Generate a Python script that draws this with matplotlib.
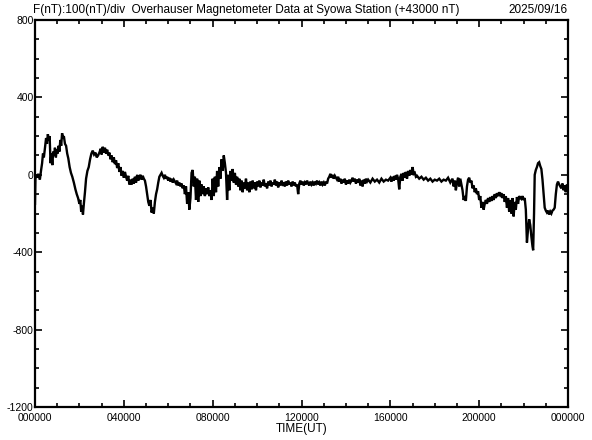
import matplotlib
matplotlib.use("Agg")
import matplotlib.pyplot as plt
from matplotlib.ticker import MultipleLocator

# --- Data (F - 43000 nT) -------------------------------------------------------
HOURS = [
    0.00, 0.02, 0.06, 0.10, 0.14, 0.18, 0.22, 0.27, 0.32, 0.36, 0.40, 0.45, 0.50, 0.54, 0.58, 0.62,
    0.66, 0.70, 0.74, 0.78, 0.82, 0.86, 0.90, 0.94, 0.98, 1.02, 1.06, 1.10, 1.14, 1.18, 1.22, 1.26,
    1.30, 1.35, 1.40, 1.45, 1.50, 1.56, 1.62, 1.68, 1.75, 1.82, 1.88, 1.94, 2.00, 2.04, 2.08, 2.12,
    2.16, 2.20, 2.25, 2.30, 2.36, 2.42, 2.48, 2.54, 2.60, 2.66, 2.72, 2.78, 2.84, 2.90, 2.96, 3.00,
    3.05, 3.10, 3.15, 3.20, 3.25, 3.30, 3.35, 3.40, 3.45, 3.50, 3.55, 3.60, 3.65, 3.70, 3.75, 3.80,
    3.85, 3.90, 3.95, 4.00, 4.05, 4.10, 4.15, 4.20, 4.25, 4.30, 4.35, 4.40, 4.45, 4.50, 4.55, 4.60,
    4.65, 4.70, 4.75, 4.80, 4.85, 4.90, 4.95, 5.00, 5.05, 5.10, 5.15, 5.20, 5.25, 5.30, 5.35, 5.40,
    5.45, 5.50, 5.55, 5.60, 5.65, 5.70, 5.75, 5.80, 5.85, 5.90, 5.95, 6.00, 6.05, 6.10, 6.15, 6.20,
    6.25, 6.30, 6.35, 6.40, 6.45, 6.50, 6.55, 6.60, 6.65, 6.70, 6.75, 6.80, 6.85, 6.90, 6.95, 7.00,
    7.05, 7.10, 7.15, 7.20, 7.25, 7.30, 7.35, 7.40, 7.45, 7.50, 7.55, 7.60, 7.65, 7.70, 7.75, 7.80,
    7.85, 7.90, 7.95, 8.00, 8.05, 8.10, 8.15, 8.20, 8.25, 8.30, 8.35, 8.40, 8.45, 8.50, 8.55, 8.60,
    8.65, 8.70, 8.75, 8.80, 8.85, 8.90, 8.95, 9.00, 9.05, 9.10, 9.15, 9.20, 9.25, 9.30, 9.35, 9.40,
    9.45, 9.50, 9.55, 9.60, 9.65, 9.70, 9.75, 9.80, 9.85, 9.90, 9.95, 10.00, 10.05, 10.10, 10.15, 10.20,
    10.25, 10.30, 10.35, 10.40, 10.45, 10.50, 10.55, 10.60, 10.65, 10.70, 10.75, 10.80, 10.85, 10.90, 10.95, 11.00,
    11.05, 11.10, 11.15, 11.20, 11.25, 11.30, 11.35, 11.40, 11.45, 11.50, 11.55, 11.60, 11.65, 11.70, 11.75, 11.80,
    11.85, 11.90, 11.95, 12.00, 12.05, 12.10, 12.15, 12.20, 12.25, 12.30, 12.35, 12.40, 12.45, 12.50, 12.55, 12.60,
    12.65, 12.70, 12.75, 12.80, 12.85, 12.90, 12.95, 13.00, 13.05, 13.10, 13.15, 13.20, 13.25, 13.30, 13.35, 13.40,
    13.45, 13.50, 13.55, 13.60, 13.65, 13.70, 13.75, 13.80, 13.85, 13.90, 13.95, 14.00, 14.05, 14.10, 14.15, 14.20,
    14.25, 14.30, 14.35, 14.40, 14.45, 14.50, 14.55, 14.60, 14.65, 14.70, 14.75, 14.80, 14.85, 14.90, 14.95, 15.00,
    15.10, 15.20, 15.30, 15.40, 15.50, 15.60, 15.70, 15.80, 15.90, 16.00, 16.05, 16.10, 16.15, 16.20, 16.25, 16.30,
    16.35, 16.40, 16.45, 16.50, 16.55, 16.60, 16.65, 16.70, 16.75, 16.80, 16.85, 16.90, 16.95, 17.00, 17.05, 17.10,
    17.15, 17.20, 17.30, 17.40, 17.50, 17.60, 17.70, 17.80, 17.90, 18.00, 18.10, 18.20, 18.30, 18.40, 18.50, 18.60,
    18.70, 18.80, 18.85, 18.90, 18.95, 19.00, 19.05, 19.10, 19.15, 19.25, 19.30, 19.35, 19.40, 19.45, 19.50, 19.55,
    19.60, 19.65, 19.70, 19.75, 19.80, 19.85, 19.90, 19.95, 20.00, 20.05, 20.10, 20.15, 20.20, 20.25, 20.30, 20.35,
    20.40, 20.45, 20.50, 20.55, 20.60, 20.65, 20.70, 20.75, 20.80, 20.85, 20.90, 20.95, 21.00, 21.05, 21.10, 21.15,
    21.20, 21.25, 21.30, 21.35, 21.40, 21.45, 21.50, 21.55, 21.60, 21.65, 21.70, 21.75, 21.80, 21.85, 21.90, 21.95,
    22.00, 22.05, 22.10, 22.15, 22.20, 22.25, 22.30, 22.35, 22.40, 22.43, 22.47, 22.50, 22.55, 22.60, 22.65, 22.70,
    22.75, 22.80, 22.85, 22.90, 22.95, 23.00, 23.05, 23.10, 23.15, 23.20, 23.25, 23.30, 23.35, 23.40, 23.45, 23.50,
    23.55, 23.60, 23.65, 23.70, 23.75, 23.80, 23.85, 23.90, 23.95, 24.00,
]
F_NT = [
    -150, -20, 0, -15, 5, -10, -25, 20, 60, 110, 90, 140, 190, 160, 210, 180,
    200, 60, 110, 50, 120, 100, 140, 90, 130, 110, 150, 120, 180, 150, 215, 190,
    200, 160, 150, 110, 85, 40, 10, -10, -40, -75, -100, -120, -150, -130, -190, -160,
    -205, -150, -90, -20, 20, 40, 80, 110, 125, 105, 115, 90, 100, 115, 135, 105,
    145, 115, 140, 110, 130, 100, 115, 80, 100, 65, 90, 55, 75, 35, 60, 15,
    40, -5, 20, -15, 15, -10, -30, -5, -50, -25, -50, -20, -45, -10, -40, 0,
    -30, -10, 0, -25, -5, -20, -30, -60, -100, -140, -160, -130, -195, -170, -200, -140,
    -100, -75, -40, -10, 0, 10, -5, -15, 0, -20, -10, -30, -15, -35, -20, -40,
    -25, -35, -45, -30, -55, -40, -60, -45, -70, -55, -100, -60, -150, -90, -180, -120,
    10, 25, -60, -10, -130, -20, -140, -30, -110, -50, -100, -60, -110, -70, -100, -65,
    -110, -80, -130, -20, -110, -10, -90, 20, -60, 40, -20, 80, 20, 100, 60, 10,
    -130, 0, -80, 20, -30, 30, -40, 10, -50, -10, -60, -20, -80, -30, -90, -40,
    -70, -20, -80, -40, -90, -35, -75, -30, -70, -40, -80, -35, -60, -30, -65, -40,
    -55, -25, -60, -45, -70, -35, -55, -30, -60, -40, -50, -25, -55, -35, -65, -40,
    -55, -30, -50, -45, -60, -35, -55, -30, -50, -40, -60, -35, -55, -40, -60, -50,
    -100, -45, -30, -50, -35, -55, -40, -50, -30, -45, -55, -35, -50, -40, -55, -35,
    -45, -30, -50, -40, -55, -35, -50, -40, -55, -35, -45, -20, -10, 5, -15, 0,
    -20, -5, -15, -25, -10, -35, -20, -45, -25, -40, -20, -50, -30, -45, -25, -40,
    -30, -15, -35, -20, -45, -25, -40, -20, -55, -30, -60, -25, -45, -20, -35, -25,
    -40, -20, -35, -25, -40, -20, -35, -25, -30, -15, -35, -10, -30, -5, -25, 0,
    -20, -75, -10, 5, -30, 10, -15, 15, -20, 20, -5, 25, 0, 40, 5, 10,
    -10, -5, -20, -10, -25, -15, -30, -20, -35, -25, -30, -20, -35, -25, -30, -15,
    -40, -20, -60, -30, -80, -40, -15, -60, -20, -80, -130, -110, -135, -60, -25, -15,
    -40, -30, -70, -55, -90, -70, -100, -85, -130, -110, -170, -140, -180, -150, -130, -150,
    -120, -140, -115, -135, -110, -130, -100, -120, -95, -110, -90, -105, -95, -120, -100, -140,
    -110, -170, -120, -190, -130, -200, -120, -215, -140, -180, -115, -150, -110, -120, -125, -110,
    -130, -120, -180, -350, -280, -230, -260, -320, -370, -390, -200, 0, 25, 40, 60, 65,
    45, 30, -25, -100, -170, -185, -195, -185, -205, -190, -200, -185, -180, -170, -100, -50,
    -35, -50, -60, -70, -45, -80, -55, -90, -50, -60,
]

X_TICK_LABELS = ["000000", "040000", "080000", "120000", "160000", "200000", "000000"]
TITLE_LEFT    = "F(nT):100(nT)/div  Overhauser Magnetometer Data at Syowa Station (+43000 nT)"
TITLE_RIGHT   = "2025/09/16"

FONT = "Liberation Sans"
plt.rcParams["axes.unicode_minus"] = False   # plain hyphen, as on the station plot

# --- Figure ---------------------------------------------------------------------
fig = plt.figure(figsize=(5.92, 4.40), dpi=100)
fig.patch.set_facecolor("white")
ax = fig.add_axes([0.0591, 0.075, 0.9004, 0.8795])

ax.plot(HOURS, F_NT, color="black", linewidth=1.7, solid_joinstyle="miter")

ax.set_xlim(0, 24)
ax.set_ylim(-1200, 800)

ax.xaxis.set_major_locator(MultipleLocator(4))
ax.xaxis.set_minor_locator(MultipleLocator(1))
ax.yaxis.set_major_locator(MultipleLocator(400))
ax.yaxis.set_minor_locator(MultipleLocator(100))
ax.set_xticks(range(0, 25, 4))
ax.set_xticklabels(X_TICK_LABELS)

ax.tick_params(which="both", direction="in", top=True, right=True, color="black", width=1.2)
ax.tick_params(which="major", length=5)
ax.tick_params(which="minor", length=3)
ax.tick_params(axis="x", pad=4, labelsize=7.5)
ax.tick_params(axis="y", pad=1, labelsize=7.5)
for label in ax.get_xticklabels() + ax.get_yticklabels():
    label.set_fontfamily(FONT)

for spine in ax.spines.values():
    spine.set_linewidth(1.6)
    spine.set_color("black")

ax.set_xlabel("TIME(UT)", fontsize=8.5, fontfamily=FONT, labelpad=0)

fig.text(33 / 592, 1 - 10 / 440, TITLE_LEFT, ha="left", va="center",
         fontsize=8.5, fontfamily=FONT)
fig.text(568 / 592, 1 - 10 / 440, TITLE_RIGHT, ha="right", va="center",
         fontsize=8.5, fontfamily=FONT)

fig.savefig("out.png", dpi=100)
